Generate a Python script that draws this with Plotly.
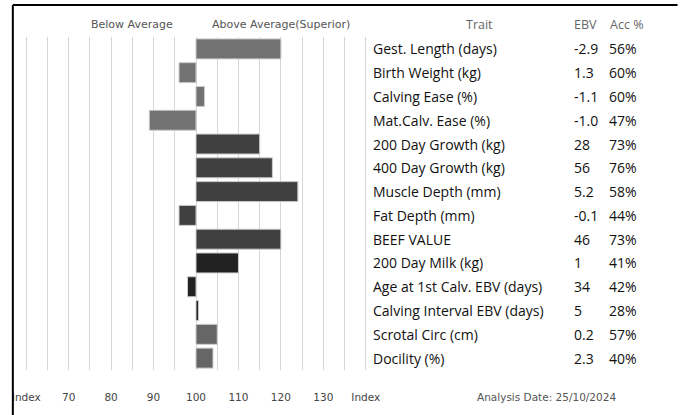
import plotly.graph_objects as go

traits = ["Gest. Length (days)", "Birth Weight (kg)", "Calving Ease (%)", "Mat.Calv. Ease (%)",
          "200 Day Growth (kg)", "400 Day Growth (kg)", "Muscle Depth (mm)", "Fat Depth (mm)",
          "BEEF VALUE", "200 Day Milk (kg)", "Age at 1st Calv. EBV (days)",
          "Calving Interval EBV (days)", "Scrotal Circ (cm)", "Docility (%)"]
index_values = [120, 96, 102, 89, 115, 118, 124, 96, 120, 110, 98, 100.6, 105, 104]
ebv = ["-2.9", "1.3", "-1.1", "-1.0", "28", "56", "5.2", "-0.1", "46", "1", "34", "5", "0.2", "2.3"]
acc = ["56%", "60%", "60%", "47%", "73%", "76%", "58%", "44%", "73%", "41%", "42%", "28%", "57%", "40%"]
bar_colors = ["#727272"] * 4 + ["#404040"] * 5 + ["#222222"] * 3 + ["#666666"] * 2
tick_vals = list(range(60, 141, 5))
tick_text = ["Index", "", "70", "", "80", "", "90", "", "100", "", "110", "", "120", "", "130", "", "Index"]

W, H = 685, 415
ML, MR, MT, MB = 16.3, 315.3, 37, 45
PW = W - ML - MR
PH = H - MT - MB

def px(x):
    return (x - ML) / PW

def py(y):
    return (H - MB - y) / PH

fig = go.Figure()
fig.add_trace(go.Bar(
    y=list(range(len(traits))),
    x=[v - 100 for v in index_values],
    base=100,
    orientation="h",
    marker=dict(color=bar_colors, line=dict(color="#cccccc", width=1)),
    width=0.84,
    hoverinfo="skip",
))

ann = []
hdr_font = dict(family="DejaVu Sans", size=11, color="#555555")
ann.append(dict(x=px(128), y=py(25), xref="paper", yref="paper", text="Below Average",
                showarrow=False, font=hdr_font, xanchor="center", yanchor="middle"))
ann.append(dict(x=px(279), y=py(25), xref="paper", yref="paper", text="Above Average(Superior)",
                showarrow=False, font=hdr_font, xanchor="center", yanchor="middle"))
th_font = dict(family="Open Sans", size=12.5, color="#666666")
ann.append(dict(x=px(481), y=py(24), xref="paper", yref="paper", text="Trait",
                showarrow=False, font=th_font, xanchor="center", yanchor="middle"))
ann.append(dict(x=px(589), y=py(24), xref="paper", yref="paper", text="EBV",
                showarrow=False, font=th_font, xanchor="center", yanchor="middle"))
ann.append(dict(x=px(630), y=py(24), xref="paper", yref="paper", text="Acc %",
                showarrow=False, font=th_font, xanchor="center", yanchor="middle"))
row_font = dict(family="Open Sans", size=14, color="#111111")
for i, (t, e, a) in enumerate(zip(traits, ebv, acc)):
    ann.append(dict(x=px(371), y=i, xref="paper", yref="y", text=t, showarrow=False,
                    font=row_font, xanchor="left", yanchor="middle"))
    ann.append(dict(x=px(575), y=i, xref="paper", yref="y", text=e, showarrow=False,
                    font=row_font, xanchor="left", yanchor="middle"))
    ann.append(dict(x=px(610), y=i, xref="paper", yref="y", text=a, showarrow=False,
                    font=row_font, xanchor="left", yanchor="middle"))
ann.append(dict(x=px(549), y=py(397), xref="paper", yref="paper", text="Analysis Date: 25/10/2024",
                showarrow=False, font=dict(family="DejaVu Sans", size=10.5, color="#555555"),
                xanchor="center", yanchor="middle"))

shapes = [
    dict(type="line", xref="paper", yref="paper", x0=px(7), x1=px(682), y0=py(5), y1=py(5),
         line=dict(color="black", width=2)),
    dict(type="line", xref="paper", yref="paper", x0=px(7), x1=px(7), y0=py(5), y1=py(416),
         line=dict(color="black", width=2)),
]

fig.update_layout(
    width=W, height=H,
    margin=dict(l=ML, r=MR, t=MT, b=MB),
    paper_bgcolor="white", plot_bgcolor="white",
    showlegend=False,
    annotations=ann, shapes=shapes,
    xaxis=dict(range=[59, 141], tickmode="array", tickvals=tick_vals, ticktext=tick_text,
               showgrid=True, gridcolor="#d6d6d6", gridwidth=1, zeroline=False, showline=False,
               ticks="", ticklabelstandoff=19,
               tickfont=dict(family="DejaVu Sans", size=10.5, color="#444444"), fixedrange=True),
    yaxis=dict(range=[13.5, -0.5], showticklabels=False, showgrid=False, zeroline=False,
               showline=False, ticks="", fixedrange=True),
    bargap=0.16,
)

fig.write_html("out.html", config=dict(displayModeBar=False),
               post_script="document.body.style.margin='0';document.body.style.overflow='hidden';")
